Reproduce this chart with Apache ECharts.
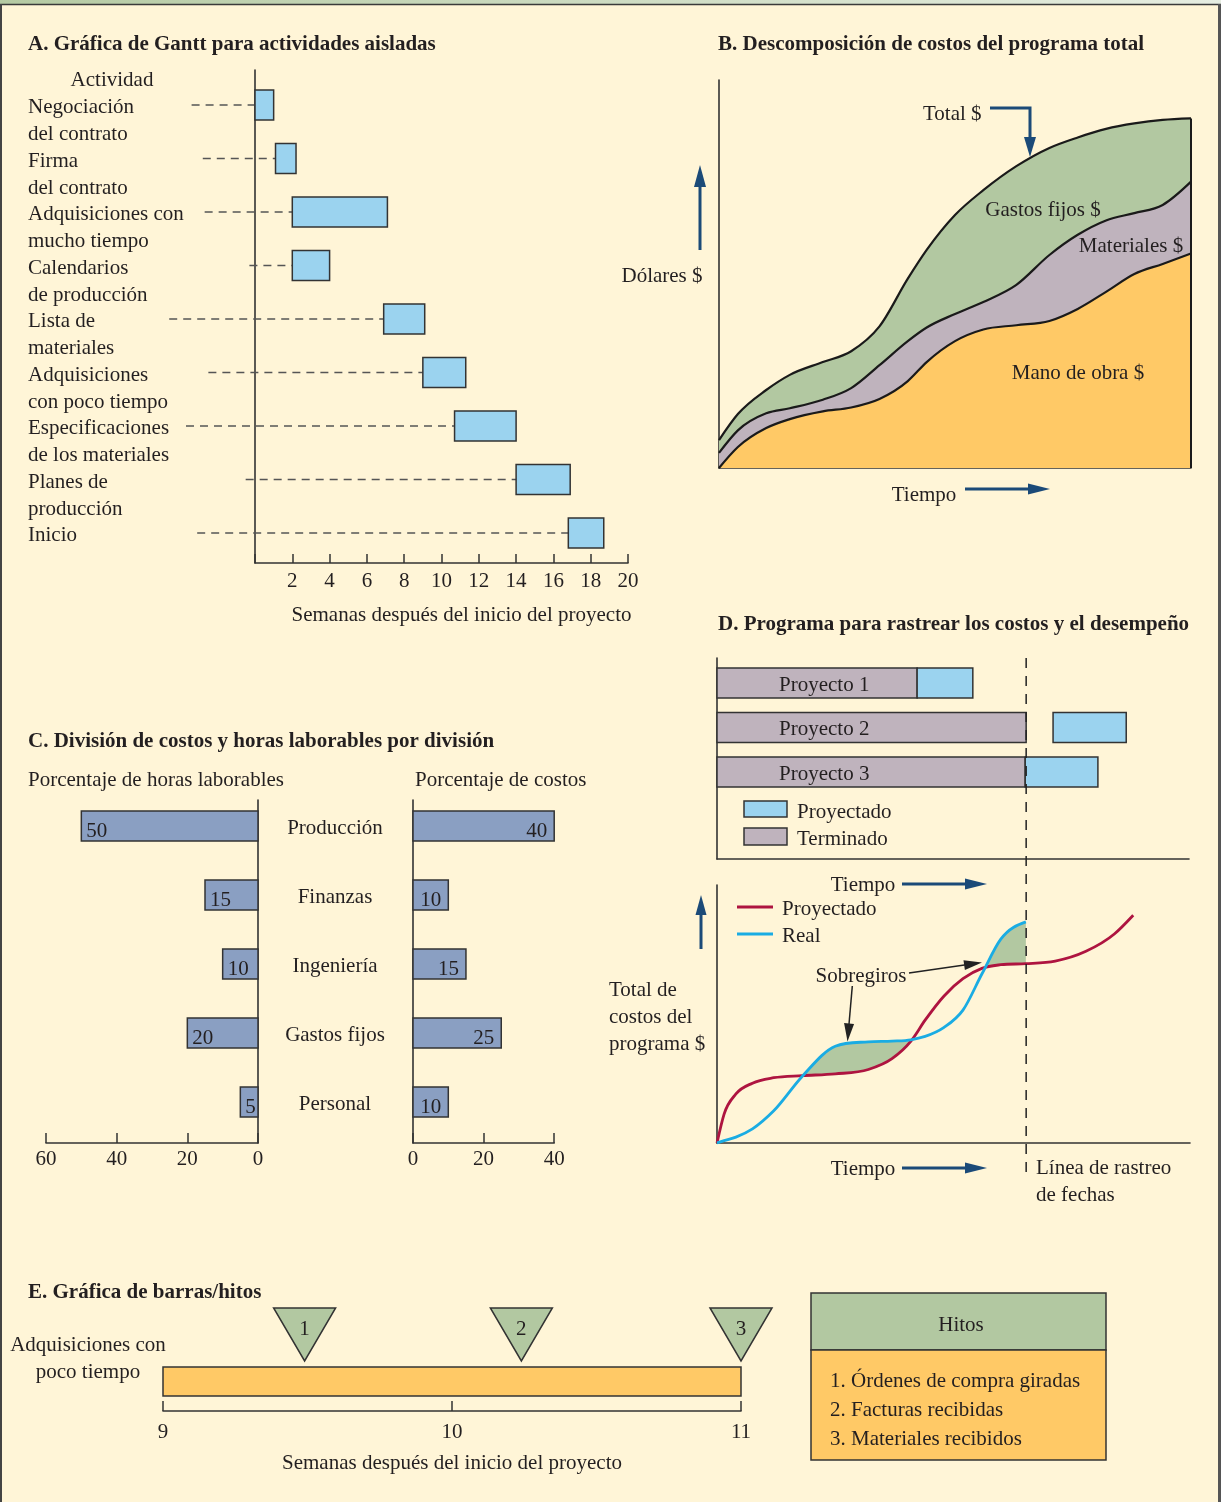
<!DOCTYPE html>
<html><head><meta charset="utf-8">
<script src="https://cdn.jsdelivr.net/npm/echarts@6/dist/echarts.min.js"></script>
<style>html,body{margin:0;padding:0;background:#FFF5D7}#c{width:1221px;height:1502px}</style>
</head><body><div id="c"></div><script>
// ---------- DATA ----------
// Panel A: Gantt
const ganttActivities = ['Negociación\ndel contrato','Firma\ndel contrato','Adquisiciones con\nmucho tiempo','Calendarios\nde producción','Lista de\nmateriales','Adquisiciones\ncon poco tiempo','Especificaciones\nde los materiales','Planes de\nproducción','Inicio'];
const ganttStart = [0, 1.1, 2, 2, 6.9, 9, 10.7, 14, 16.8];
const ganttEnd = [1, 2.2, 7.1, 4, 9.1, 11.3, 14, 16.9, 18.7];
const ganttLeaderStart = [-3.4, -2.8, -2.7, -0.3, -4.6, -2.5, -3.7, -0.5, -3.1];

// Panel B: cost breakdown (stacked layers)
const costTime = [0, 4, 10, 15, 22, 28, 34, 40, 44, 50, 56, 63, 70, 76, 82, 88, 94, 100];
const laborCost = [0, 5.4, 10.3, 12.6, 14.6, 15.6, 17.8, 22.4, 27.3, 32.7, 35.7, 36.8, 37.9, 41.0, 45.4, 50.0, 52.6, 55.3];
const materialsCost = [3.9, 4.3, 3.8, 2.8, 3.0, 5.0, 8.7, 10.3, 8.9, 7.0, 7.1, 10.4, 17.0, 19.1, 18.4, 15.7, 15.2, 18.5];
const overheadCost = [3.3, 4.2, 6.0, 8.6, 9.7, 9.5, 10.0, 16.1, 20.0, 25.5, 28.8, 30.6, 27.6, 25.1, 23.6, 23.1, 21.9, 16.3];

// Panel C: divisions
const divisions = ['Producción', 'Finanzas', 'Ingeniería', 'Gastos fijos', 'Personal'];
const laborHoursPct = [50, 15, 10, 20, 5];
const costPct = [40, 10, 15, 25, 10];

// Panel D: tracking
const projects = ['Proyecto 1', 'Proyecto 2', 'Proyecto 3'];
const doneEnd = [42.4, 65.5, 65.3];
const plannedStart = [42.4, 71.2, 65.3];
const plannedEnd = [54.2, 86.7, 80.7];
const statusDate = 65.5;
const trackTime = [0, 1.5, 4, 7.5, 12, 18, 25, 32, 37, 41, 44, 48, 52, 56, 60, 65.3, 71.5, 78, 84, 88];
const plannedCost = [0, 11.2, 19.0, 23.2, 25.3, 26.1, 26.8, 28.5, 32.7, 39.5, 47.6, 57.0, 63.7, 67.7, 69.1, 69.5, 70.5, 74.3, 81.0, 88.3];
const actualCost = [0, 0.9, 2.3, 5.5, 12.5, 25.8, 37.5, 39.2, 39.5, 40.0, 41.3, 44.8, 51.5, 65.5, 79.0, 85.7];

// Panel E: milestones
const eActivity = ['Adquisiciones con', 'poco tiempo'];
const eBarStart = 9, eBarEnd = 11;
const milestoneWeeks = [9.49, 10.24, 11.0];
const milestoneLabels = ['1', '2', '3'];
const milestoneNames = ['1. Órdenes de compra giradas', '2. Facturas recibidas', '3. Materiales recibidos'];

// ---------- STYLE ----------
const F = 'Liberation Serif, "Times New Roman", serif';
const INK = '#231F20', AX = '#333';
const BLUE = '#9BD3EF', MAUVE = '#BFB3BD', GREEN = '#B2C8A1', ORANGE = '#FFC966', STEEL = '#8A9FC2';
const RED = '#AE1440', CYAN = '#1AACE3', NAVY = '#1B4A78';
const FS = 21, DY = 2;

function txt(text, x, y, o) {
  return {type: 'text', silent: true, z: 20, style: Object.assign({text, x, y: y + DY, fill: INK, fontSize: FS, fontFamily: F, align: 'left', verticalAlign: 'middle'}, o || {})};
}
function arrow(x1, y1, x2, y2, color, lw, hl, hw) {
  const dx = x2 - x1, dy = y2 - y1, L = Math.hypot(dx, dy), ux = dx / L, uy = dy / L;
  const bx = x2 - ux * hl, by = y2 - uy * hl;
  return [
    {type: 'line', silent: true, z: 20, shape: {x1, y1, x2: bx + ux * 2, y2: by + uy * 2}, style: {stroke: color, lineWidth: lw}},
    {type: 'polygon', silent: true, z: 20, shape: {points: [[x2, y2], [bx - uy * hw / 2, by + ux * hw / 2], [bx + uy * hw / 2, by - ux * hw / 2]]}, style: {fill: color}}
  ];
}

// Fritsch–Carlson style cubic (x increasing) -> bezier segments in pixel space
function monoSegs(P) {
  const n = P.length, h = [], s = [], m = new Array(n);
  for (let i = 0; i < n - 1; i++) { h[i] = P[i + 1][0] - P[i][0]; s[i] = (P[i + 1][1] - P[i][1]) / h[i]; }
  for (let i = 1; i < n - 1; i++) {
    const p = (s[i - 1] * h[i] + s[i] * h[i - 1]) / (h[i - 1] + h[i]);
    if (s[i - 1] * s[i] <= 0) { m[i] = 0; continue; }
    m[i] = Math.sign(p) * Math.min(Math.abs(p), 3 * Math.min(Math.abs(s[i - 1]), Math.abs(s[i])));
  }
  if (n === 2) { m[0] = m[1] = s[0]; } else { m[0] = (3 * s[0] - m[1]) / 2; m[n - 1] = (3 * s[n - 2] - m[n - 2]) / 2; }
  const segs = [];
  for (let i = 0; i < n - 1; i++) {
    const d = h[i] / 3;
    segs.push({x0: P[i][0], y0: P[i][1], c1x: P[i][0] + d, c1y: P[i][1] + m[i] * d, c2x: P[i + 1][0] - d, c2y: P[i + 1][1] - m[i + 1] * d, x1: P[i + 1][0], y1: P[i + 1][1]});
  }
  return segs;
}
const f2 = v => v.toFixed(2);
function fwd(segs) {
  let d = 'M' + f2(segs[0].x0) + ' ' + f2(segs[0].y0);
  segs.forEach(g => { d += ' C' + f2(g.c1x) + ' ' + f2(g.c1y) + ' ' + f2(g.c2x) + ' ' + f2(g.c2y) + ' ' + f2(g.x1) + ' ' + f2(g.y1); });
  return d;
}
function bwd(segs) {
  let d = ' L' + f2(segs[segs.length - 1].x1) + ' ' + f2(segs[segs.length - 1].y1);
  for (let i = segs.length - 1; i >= 0; i--) { const g = segs[i]; d += ' C' + f2(g.c2x) + ' ' + f2(g.c2y) + ' ' + f2(g.c1x) + ' ' + f2(g.c1y) + ' ' + f2(g.x0) + ' ' + f2(g.y0); }
  return d;
}
function evalY(segs, x) {
  for (const g of segs) {
    if (x >= g.x0 - 1e-6 && x <= g.x1 + 1e-6) {
      const t = (x - g.x0) / (g.x1 - g.x0), u = 1 - t;
      return u * u * u * g.y0 + 3 * u * u * t * g.c1y + 3 * u * t * t * g.c2y + t * t * t * g.y1;
    }
  }
  return NaN;
}

const lineS = {show: true, onZero: false, lineStyle: {color: AX, width: 1.6}};
function vAxis(gridIndex, min, max, extra) {
  return Object.assign({type: 'value', gridIndex, min, max, splitLine: {show: false}, axisLine: {show: false, onZero: false}, axisTick: {show: false}, axisLabel: {show: false}}, extra || {});
}
const tickLbl = (margin) => ({show: true, margin, color: INK, fontSize: FS, fontFamily: F});
const ticks = (len) => ({show: true, inside: true, length: len, lineStyle: {color: AX, width: 1.5}});
const nameStyle = (pad) => ({color: INK, fontSize: FS, fontFamily: F, padding: pad || 0});

const grids = [
  {left: 255, top: 70, width: 373, height: 493},   // A
  {left: 719, top: 80, width: 472, height: 388},   // B
  {left: 46, top: 800, width: 212, height: 343},   // C left
  {left: 413, top: 800, width: 141.2, height: 343},// C right
  {left: 717, top: 658, width: 472, height: 201},  // D top
  {left: 717, top: 885, width: 473, height: 258},  // D bottom
  {left: 163, top: 1300, width: 578, height: 111}  // E
].map(g => Object.assign({outerBoundsMode: 'none', containLabel: false}, g));

const xAxes = [
  vAxis(0, 0, 20, {interval: 2, axisLine: lineS, axisTick: ticks(9), axisLabel: Object.assign(tickLbl(8), {formatter: v => v === 0 ? '' : String(v)}),
    name: 'Semanas después del inicio del proyecto', nameLocation: 'middle', nameGap: 42, nameTextStyle: nameStyle([0, 0, 0, 40])}),
  vAxis(1, 0, 100, {axisLine: lineS}),
  vAxis(2, 0, 60, {inverse: true, interval: 20, axisLine: lineS, axisTick: ticks(10), axisLabel: tickLbl(6)}),
  vAxis(3, 0, 40, {interval: 20, axisLine: lineS, axisTick: ticks(10), axisLabel: tickLbl(6)}),
  vAxis(4, 0, 100, {axisLine: lineS}),
  vAxis(5, 0, 100, {axisLine: lineS}),
  vAxis(6, 9, 11, {interval: 1, axisLine: lineS, axisTick: ticks(10), axisLabel: tickLbl(11),
    name: 'Semanas después del inicio del proyecto', nameLocation: 'middle', nameGap: 42, nameTextStyle: nameStyle()})
];
const yAxes = [
  vAxis(0, -0.654, 8.561, {inverse: true, axisLine: lineS}),
  vAxis(1, 0, 100, {axisLine: lineS}),
  vAxis(2, -0.377, 4.594, {inverse: true, position: 'right', axisLine: lineS}),
  vAxis(3, -0.377, 4.594, {inverse: true, axisLine: lineS}),
  vAxis(4, -0.562, 3.955, {inverse: true, axisLine: lineS}),
  vAxis(5, 0, 100, {axisLine: lineS}),
  vAxis(6, 0, 1, {})
];

// B rows: time, labor, materials, overhead
const costRows = costTime.map((t, i) => [t, laborCost[i], materialsCost[i], overheadCost[i]]);
const bPts = {base: [], l1: [], l2: [], l3: []};
// D rows: time, planned, actual ('-' after the status date)
const trackRows = trackTime.map((t, i) => [t, plannedCost[i], i < actualCost.length ? actualCost[i] : '-']);
const dPts = {red: [], blue: []};
const tStyle = (o) => Object.assign({fill: INK, fontSize: FS, fontFamily: F, verticalAlign: 'middle'}, o);

const series = [
  // A: Gantt
  {type: 'custom', xAxisIndex: 0, yAxisIndex: 0, encode: {x: [1, 2], y: 0},
   data: ganttActivities.map((_, i) => [i, ganttStart[i], ganttEnd[i], ganttLeaderStart[i]]),
   renderItem(p, api) {
     const i = api.value(0), a = api.coord([api.value(1), i]), b = api.coord([api.value(2), i]), l = api.coord([api.value(3), i]);
     return {type: 'group', children: [
       {type: 'line', shape: {x1: l[0], y1: a[1], x2: a[0], y2: a[1]}, style: {stroke: '#555', lineWidth: 1.5, lineDash: [8, 6]}},
       {type: 'rect', shape: {x: a[0], y: a[1] - 15, width: b[0] - a[0], height: 30}, style: {fill: BLUE, stroke: '#333', lineWidth: 1.5}},
       {type: 'text', style: tStyle({text: ganttActivities[i], x: 28, y: a[1] - 13.5 + 2.5, lineHeight: 27, align: 'left', verticalAlign: 'top'})}
     ]};
   }},
  // B: stacked cost layers
  {type: 'custom', xAxisIndex: 1, yAxisIndex: 1, encode: {x: 0, y: [1, 2, 3]}, data: costRows,
   renderItem(p, api) {
     const i = p.dataIndex, t = api.value(0), a = api.value(1), b = api.value(2), c = api.value(3);
     bPts.base[i] = api.coord([t, 0]); bPts.l1[i] = api.coord([t, a]); bPts.l2[i] = api.coord([t, a + b]); bPts.l3[i] = api.coord([t, a + b + c]);
     if (i < costRows.length - 1) return null;
     const s1 = monoSegs(bPts.l1), s2 = monoSegs(bPts.l2), s3 = monoSegs(bPts.l3);
     const b0 = bPts.base[0], bN = bPts.base[i];
     const nofill = {fill: null, stroke: '#1a1a1a', lineWidth: 2.2};
     return {type: 'group', children: [
       {type: 'path', shape: {pathData: fwd(s1) + ' L' + bN[0] + ' ' + bN[1] + ' L' + b0[0] + ' ' + b0[1] + ' Z'}, style: {fill: ORANGE, stroke: null}},
       {type: 'path', shape: {pathData: fwd(s2) + bwd(s1) + ' Z'}, style: {fill: MAUVE, stroke: null}},
       {type: 'path', shape: {pathData: fwd(s3) + bwd(s2) + ' Z'}, style: {fill: GREEN, stroke: null}},
       {type: 'path', shape: {pathData: fwd(s1)}, style: nofill},
       {type: 'path', shape: {pathData: fwd(s2)}, style: nofill},
       {type: 'path', shape: {pathData: fwd(s3)}, style: nofill},
       {type: 'line', shape: {x1: bN[0], y1: bN[1], x2: bPts.l3[i][0], y2: bPts.l3[i][1]}, style: {stroke: '#1a1a1a', lineWidth: 2}}
     ]};
   }},
  // C: left (labor hours)
  {type: 'custom', xAxisIndex: 2, yAxisIndex: 2, encode: {x: 1, y: 0}, data: laborHoursPct.map((v, i) => [i, v]),
   renderItem(p, api) {
     const r = api.value(0), v = api.value(1), a = api.coord([0, r]), b = api.coord([v, r]);
     return {type: 'group', children: [
       {type: 'rect', shape: {x: b[0], y: a[1] - 15, width: a[0] - b[0], height: 30}, style: {fill: STEEL, stroke: '#333', lineWidth: 1.5}},
       {type: 'text', style: tStyle({text: String(v), x: b[0] + 5, y: a[1] + 5, align: 'left'})},
       {type: 'text', style: tStyle({text: divisions[r], x: 335, y: a[1] + 2, align: 'center'})}
     ]};
   }},
  // C: right (costs)
  {type: 'custom', xAxisIndex: 3, yAxisIndex: 3, encode: {x: 1, y: 0}, data: costPct.map((v, i) => [i, v]),
   renderItem(p, api) {
     const r = api.value(0), v = api.value(1), a = api.coord([0, r]), b = api.coord([v, r]);
     return {type: 'group', children: [
       {type: 'rect', shape: {x: a[0], y: a[1] - 15, width: b[0] - a[0], height: 30}, style: {fill: STEEL, stroke: '#333', lineWidth: 1.5}},
       {type: 'text', style: tStyle({text: String(v), x: b[0] - 7, y: a[1] + 5, align: 'right'})}
     ]};
   }},
  // D top: project bars
  {type: 'custom', xAxisIndex: 4, yAxisIndex: 4, encode: {x: [1, 2, 3], y: 0},
   data: projects.map((_, i) => [i, doneEnd[i], plannedStart[i], plannedEnd[i]]),
   renderItem(p, api) {
     const r = api.value(0), o = api.coord([0, r]), d = api.coord([api.value(1), r]), s = api.coord([api.value(2), r]), e = api.coord([api.value(3), r]);
     return {type: 'group', children: [
       {type: 'rect', shape: {x: o[0], y: o[1] - 15, width: d[0] - o[0], height: 30}, style: {fill: MAUVE, stroke: '#333', lineWidth: 1.5}},
       {type: 'rect', shape: {x: s[0], y: o[1] - 15, width: e[0] - s[0], height: 30}, style: {fill: BLUE, stroke: '#333', lineWidth: 1.5}},
       {type: 'text', style: tStyle({text: projects[r], x: o[0] + 62, y: o[1] + 2, align: 'left'})}
     ]};
   }},
  // D: status date line
  {type: 'custom', xAxisIndex: 4, yAxisIndex: 4, z: 6, data: [[statusDate, -0.562]],
   renderItem(p, api) {
     const a = api.coord([api.value(0), api.value(1)]);
     return {type: 'line', shape: {x1: a[0], y1: a[1], x2: a[0], y2: 1180}, style: {stroke: '#222', lineWidth: 1.5, lineDash: [10, 8]}};
   }},
  // D bottom: planned vs actual with overrun fill
  {type: 'custom', xAxisIndex: 5, yAxisIndex: 5, encode: {x: 0, y: [1, 2]}, data: trackRows,
   renderItem(p, api) {
     const i = p.dataIndex, t = api.value(0), pv = api.value(1), av = api.value(2);
     dPts.red[i] = api.coord([t, pv]);
     if (!isNaN(av)) dPts.blue[i] = api.coord([t, av]);
     if (i < trackRows.length - 1) return null;
     const blue = dPts.blue.filter(Boolean);
     const rs = monoSegs(dPts.red), bs = monoSegs(blue);
     const xEnd = blue[blue.length - 1][0];
     const polys = [];
     let run = null;
     const push = (x) => {
       const yb = evalY(bs, x), yr = evalY(rs, x);
       if (yb < yr - 0.2) { if (!run) run = []; run.push([x, yb, yr]); }
       else if (run) { polys.push(run); run = null; }
     };
     for (let x = blue[0][0]; x < xEnd; x += 0.5) push(x);
     push(xEnd);
     if (run) polys.push(run);
     const children = polys.filter(r => r.length > 1).map(r => ({type: 'polygon', shape: {points: r.map(q => [q[0], q[1]]).concat(r.slice().reverse().map(q => [q[0], q[2]]))}, style: {fill: GREEN, stroke: null}}));
     children.push({type: 'path', shape: {pathData: fwd(rs)}, style: {fill: null, stroke: RED, lineWidth: 2.8}});
     children.push({type: 'path', shape: {pathData: fwd(bs)}, style: {fill: null, stroke: CYAN, lineWidth: 2.8}});
     return {type: 'group', children};
   }},
  // E: bar
  {type: 'custom', xAxisIndex: 6, yAxisIndex: 6, encode: {x: [0, 1]}, data: [[eBarStart, eBarEnd]],
   renderItem(p, api) {
     const a = api.coord([api.value(0), 0]), b = api.coord([api.value(1), 0]);
     return {type: 'rect', shape: {x: a[0], y: a[1] - 44, width: b[0] - a[0], height: 29}, style: {fill: ORANGE, stroke: '#333', lineWidth: 1.5}};
   }},
  // E: milestones
  {type: 'custom', xAxisIndex: 6, yAxisIndex: 6, encode: {x: 0}, data: milestoneWeeks.map((w, i) => [w, i]),
   renderItem(p, api) {
     const i = api.value(1), a = api.coord([api.value(0), 0]);
     const tip = a[1] - 50, top = a[1] - 103;
     return {type: 'group', children: [
       {type: 'polygon', shape: {points: [[a[0] - 31, top], [a[0] + 31, top], [a[0], tip]]}, style: {fill: GREEN, stroke: '#333', lineWidth: 1.5}},
       {type: 'text', style: tStyle({text: milestoneLabels[i], x: a[0], y: top + 21, align: 'center'})}
     ]};
   }}
];

const bold = {fontWeight: 'bold'};
const g = [
  {type: 'rect', silent: true, shape: {x: 0, y: 0, width: 1221, height: 4}, style: {fill: {type: 'linear', x: 0, y: 0, x2: 1, y2: 0, colorStops: [{offset: 0, color: '#B5CAA3'}, {offset: 1, color: '#E6EDE1'}]}}},
  {type: 'line', silent: true, shape: {x1: 0, y1: 4.5, x2: 1221, y2: 4.5}, style: {stroke: '#3a3a3a', lineWidth: 1.5}},
  {type: 'line', silent: true, shape: {x1: 1, y1: 4, x2: 1, y2: 1502}, style: {stroke: '#444', lineWidth: 2}},
  {type: 'line', silent: true, shape: {x1: 1219.5, y1: 4, x2: 1219.5, y2: 1502}, style: {stroke: '#555', lineWidth: 3}},
  // titles
  txt('A. Gráfica de Gantt para actividades aisladas', 28, 43, bold),
  txt('B. Descomposición de costos del programa total', 718, 43, bold),
  txt('C. División de costos y horas laborables por división', 28, 740, bold),
  txt('D. Programa para rastrear los costos y el desempeño', 718, 623, bold),
  txt('E. Gráfica de barras/hitos', 28, 1291, bold),
  // A
  txt('Actividad', 112, 78, {align: 'center'}),
  // B
  txt('Total $', 923, 112),
  {type: 'polyline', silent: true, z: 20, shape: {points: [[990, 108], [1030, 108], [1030, 142]]}, style: {stroke: NAVY, lineWidth: 3, fill: null}},
  {type: 'polygon', silent: true, z: 20, shape: {points: [[1030, 157], [1024, 137], [1036, 137]]}, style: {fill: NAVY}},
  txt('Gastos fijos $', 1043, 208, {align: 'center'}),
  txt('Materiales $', 1131, 244, {align: 'center'}),
  txt('Mano de obra $', 1078, 371, {align: 'center'}),
  txt('Dólares $', 662, 274, {align: 'center'}),
  ...arrow(700, 250, 700, 165, NAVY, 3, 22, 12),
  txt('Tiempo', 924, 493, {align: 'center'}),
  ...arrow(965, 489, 1050, 489, NAVY, 3, 22, 11),
  // C
  txt('Porcentaje de horas laborables', 28, 778),
  txt('Porcentaje de costos', 415, 778),
  // D top legend
  {type: 'rect', silent: true, z: 20, shape: {x: 744, y: 801, width: 43, height: 16}, style: {fill: BLUE, stroke: '#333', lineWidth: 1.5}},
  {type: 'rect', silent: true, z: 20, shape: {x: 744, y: 828, width: 43, height: 17}, style: {fill: MAUVE, stroke: '#333', lineWidth: 1.5}},
  txt('Proyectado', 797, 810),
  txt('Terminado', 797, 837),
  // D bottom
  txt('Tiempo', 863, 883, {align: 'center'}),
  ...arrow(902, 884, 987, 884, NAVY, 3, 22, 11),
  {type: 'line', silent: true, z: 20, shape: {x1: 737, y1: 907, x2: 773, y2: 907}, style: {stroke: RED, lineWidth: 3}},
  {type: 'line', silent: true, z: 20, shape: {x1: 737, y1: 934, x2: 773, y2: 934}, style: {stroke: CYAN, lineWidth: 3}},
  txt('Proyectado', 782, 907),
  txt('Real', 782, 934),
  txt('Sobregiros', 861, 974, {align: 'center'}),
  ...arrow(909, 973, 982, 962.6, '#222', 1.5, 18, 10),
  ...arrow(852.3, 986, 847.5, 1041.4, '#222', 1.5, 18, 10),
  ...arrow(701, 949, 701, 895, NAVY, 3, 20, 11),
  txt('Total de', 609, 988),
  txt('costos del', 609, 1015),
  txt('programa $', 609, 1042),
  txt('Tiempo', 863, 1167, {align: 'center'}),
  ...arrow(902, 1168, 987, 1168, NAVY, 3, 22, 11),
  txt('Línea de rastreo', 1036, 1166),
  txt('de fechas', 1036, 1193),
  // E
  txt(eActivity[0], 88, 1343, {align: 'center'}),
  txt(eActivity[1], 88, 1370, {align: 'center'}),
  {type: 'rect', silent: true, z: 19, shape: {x: 811, y: 1293, width: 295, height: 57}, style: {fill: GREEN, stroke: '#333', lineWidth: 1.5}},
  {type: 'rect', silent: true, z: 19, shape: {x: 811, y: 1350, width: 295, height: 110}, style: {fill: ORANGE, stroke: '#333', lineWidth: 1.5}},
  txt('Hitos', 961, 1323, {align: 'center'}),
  ...milestoneNames.map((n, i) => txt(n, 830, 1379 + i * 29))
];

const chart = echarts.init(document.getElementById('c'), null, {renderer: 'canvas', width: 1221, height: 1502});
chart.setOption({
  backgroundColor: '#FFF5D7',
  animation: false,
  textStyle: {fontFamily: F},
  grid: grids, xAxis: xAxes, yAxis: yAxes, series, graphic: {elements: g}
});
</script></body></html>
